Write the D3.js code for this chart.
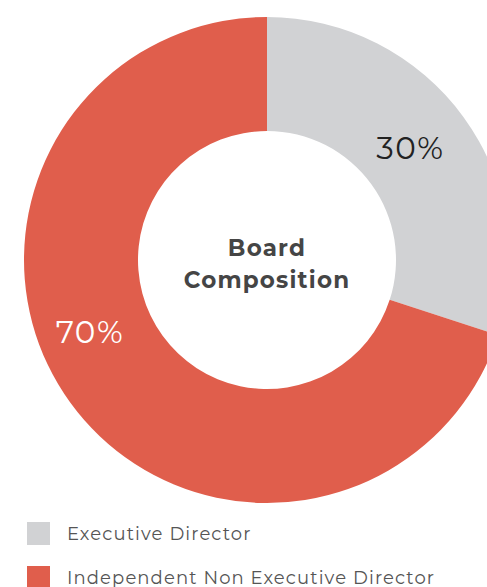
<!DOCTYPE html>
<html>
<head>
<meta charset="utf-8">
<script src="https://cdn.jsdelivr.net/npm/d3@7"></script>
<style>
  html, body { margin: 0; padding: 0; background: #fff; overflow: hidden; }
  svg { display: block; font-family: Montserrat, "Open Sans", "DejaVu Sans", sans-serif; }
</style>
</head>
<body>
<svg id="chart" width="487" height="587"></svg>
<script>
const categories = ['Executive Director', 'Independent Non Executive Director'];
const shares = [30, 70];
const colors = ['#d1d2d4', '#e05e4c'];
const labelColors = ['#222222', '#ffffff'];
// label positions along the ring: degrees clockwise from 12 o'clock, and radius
const labelAngles = [52, 248];
const labelRadii = [182, 191];

const width = 487, height = 587;
const cx = 267, cy = 260;
const outerR = 243, innerR = 129;

const svg = d3.select('#chart');

const pie = d3.pie().sort(null).value((d) => d);
const arcs = pie(shares);
const arc = d3.arc().innerRadius(innerR).outerRadius(outerR);

const g = svg.append('g').attr('transform', `translate(${cx},${cy})`);

g.selectAll('path')
  .data(arcs)
  .join('path')
  .attr('d', arc)
  .attr('fill', (d, i) => colors[i]);

g.selectAll('text.pct')
  .data(arcs)
  .join('text')
  .attr('class', 'pct')
  .attr('x', (d, i) => labelRadii[i] * Math.sin(labelAngles[i] * Math.PI / 180))
  .attr('y', (d, i) => -labelRadii[i] * Math.cos(labelAngles[i] * Math.PI / 180))
  .attr('text-anchor', 'middle')
  .attr('dominant-baseline', 'central')
  .attr('font-size', 31)
  .attr('letter-spacing', 1.5)
  .attr('fill', (d, i) => labelColors[i])
  .text((d) => `${d.data}%`);

const title = g.append('text')
  .attr('text-anchor', 'middle')
  .attr('font-size', 23)
  .attr('font-weight', 700)
  .attr('letter-spacing', 1.2)
  .attr('fill', '#454545');
title.append('tspan').attr('x', 0).attr('y', -4).text('Board');
title.append('tspan').attr('x', 0).attr('y', 28).text('Composition');

const legend = svg.append('g').attr('transform', 'translate(27,522)');
const item = legend.selectAll('g')
  .data(categories)
  .join('g')
  .attr('transform', (d, i) => `translate(0,${i * 44})`);

item.append('rect')
  .attr('width', 23)
  .attr('height', 23)
  .attr('fill', (d, i) => colors[i]);

item.append('text')
  .attr('x', 40)
  .attr('y', 12)
  .attr('dominant-baseline', 'central')
  .attr('font-size', 18)
  .attr('letter-spacing', 1.1)
  .attr('fill', '#555555')
  .text((d) => d);
</script>
</body>
</html>
